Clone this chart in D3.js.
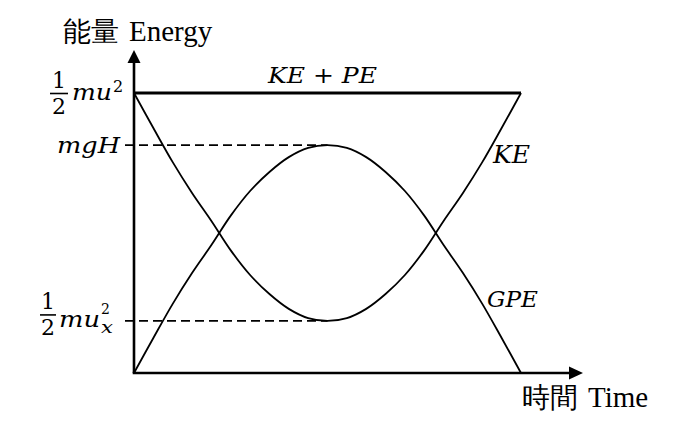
<!DOCTYPE html>
<html><head><meta charset="utf-8">
<script src="https://cdn.jsdelivr.net/npm/d3@7"></script>
<style>html,body{margin:0;padding:0;background:#fff;}svg{display:block;}</style>
</head><body>
<svg id="c" width="675" height="430"></svg>
<script>
// ---- data (energy in % of total, time 0..10) ----
const time = [0,0.5,1,1.5,2,2.5,3,3.5,4,4.5,5,5.5,6,6.5,7,7.5,8,8.5,9,9.5,10];
const gpe  = [0,12.5,24.7,35.7,45.7,56.2,65,71.8,77.1,80.4,81.4,80.4,77.1,71.8,65,56.2,45.7,35.7,24.7,12.5,0];
const ke   = [100,87.5,75.3,64.3,54.3,43.8,35,28.2,22.9,19.6,18.6,19.6,22.9,28.2,35,43.8,54.3,64.3,75.3,87.5,100];
const total = [100,100];
const totalTime = [0,10];
const levelTotal = 100, levelMgH = 81.4, levelUx = 18.6;
const peakTime = 5;

const svg = d3.select("#c");
const x = d3.scaleLinear().domain([0,10]).range([134,521]);
const y = d3.scaleLinear().domain([0,100]).range([373,93]);
const x0 = x(0), y0 = y(0);
const ink = "#000";

// axes
svg.append("line").attr("x1",x0).attr("y1",y0).attr("x2",x0).attr("y2",y(100)-31).attr("stroke",ink).attr("stroke-width",2.6);
svg.append("line").attr("x1",x0-1.3).attr("y1",y0).attr("x2",x(10)+50).attr("stroke",ink).attr("y2",y0).attr("stroke-width",2.6);
svg.append("path").attr("d",`M${x0-6.5},${y(100)-30} L${x0},${y(100)-43} L${x0+6.5},${y(100)-30} Z`).attr("fill",ink);
svg.append("path").attr("d",`M${x(10)+48},${y0-6.5} L${x(10)+62},${y0} L${x(10)+48},${y0+6.5} Z`).attr("fill",ink);

// dashed reference lines
[levelMgH, levelUx].forEach(v=>{
  svg.append("line").attr("x1",x0-9).attr("x2",x(peakTime)).attr("y1",y(v)).attr("y2",y(v))
    .attr("stroke",ink).attr("stroke-width",1.6).attr("stroke-dasharray","9,5");
});

// total energy line
const lineT = d3.line().x((d,i)=>x(totalTime[i])).y(d=>y(d));
svg.append("path").attr("d",lineT(total)).attr("fill","none").attr("stroke",ink).attr("stroke-width",3.2);

const line = d3.line().x((d,i)=>x(time[i])).y(d=>y(d)).curve(d3.curveCatmullRom.alpha(0.5));
svg.append("path").attr("d",line(ke)).attr("fill","none").attr("stroke",ink).attr("stroke-width",1.8);
svg.append("path").attr("d",line(gpe)).attr("fill","none").attr("stroke",ink).attr("stroke-width",1.8);

// text
const serif = '"Liberation Serif", "Times New Roman", serif';
const math = '"DejaVu Serif", serif';

function title(xp, yp, zh, en){
  const t = svg.append("text").attr("x",xp).attr("y",yp).style("font-family",serif).attr("font-size",28).attr("fill",ink);
  t.append("tspan").text(zh);
  t.append("tspan").attr("x",xp+66).attr("font-size",29).text(en);
}
title(63, 41, "能量", "Energy");
title(522, 407, "時間", "Time");

function mt(xp, yp, s, size, len){
  const t = svg.append("text").attr("x",xp).attr("y",yp).style("font-family",math).attr("font-style","italic")
    .attr("font-size",size).attr("fill",ink).text(s);
  if(len) t.attr("textLength",len).attr("lengthAdjust","spacingAndGlyphs");
  return t;
}
mt(268, 83, "KE + PE", 23, 109);
mt(493, 163, "KE", 25, 37);
mt(487, 307, "GPE", 23, 51);
mt(57, 153, "mgH", 22, 63);

// fractions 1/2 mu^2
function frac(xl, yb, w){
  const cx = xl + w/2;
  svg.append("text").attr("x",cx).attr("y",yb-6).attr("text-anchor","middle").style("font-family",math).attr("font-size",22).text("1");
  svg.append("line").attr("x1",xl).attr("x2",xl+w).attr("y1",yb).attr("y2",yb).attr("stroke",ink).attr("stroke-width",1.6);
  svg.append("text").attr("x",cx).attr("y",yb+20).attr("text-anchor","middle").style("font-family",math).attr("font-size",22).text("2");
}
frac(50, y(levelTotal)+0.5, 18);
mt(72, 100, "mu", 23, 40);
svg.append("text").attr("x",113).attr("y",92).style("font-family",math).attr("font-size",16).text("2");

frac(40, y(levelUx)-6, 16);
mt(59, 327, "mu", 23, 41);
svg.append("text").attr("x",101).attr("y",314).style("font-family",math).attr("font-size",14).text("2");
mt(101, 333, "x", 16, 12);
</script>
</body></html>
